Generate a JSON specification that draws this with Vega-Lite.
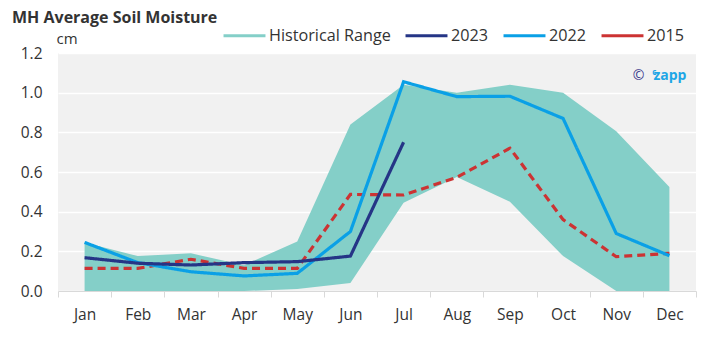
{
  "$schema": "https://vega.github.io/schema/vega-lite/v6.json",
  "autosize": "none",
  "width": 638,
  "height": 238,
  "padding": {"left": 58, "top": 53, "right": 24, "bottom": 50},
  "background": "white",
  "config": {
    "font": "Open Sans",
    "view": {"fill": "#f1f1f1", "stroke": null},
    "axisY": {
      "tickCount": 6,
      "labelOverlap": false,
      "format": ".1f",
      "labelFontSize": 15.5,
      "labelColor": "#333333",
      "labelPadding": 16,
      "ticks": false,
      "domain": false,
      "grid": true,
      "gridColor": "#ffffff",
      "gridWidth": 1.5,
      "titleAngle": 0,
      "titleX": -2,
      "titleY": -10,
      "titleAlign": "left",
      "titleBaseline": "alphabetic",
      "titleFontSize": 15,
      "titleFontWeight": "normal",
      "titleColor": "#333333"
    }
  },
  "title": {
    "text": "MH Average Soil Moisture",
    "anchor": "start",
    "frame": "group",
    "dx": -46,
    "dy": 28,
    "offset": 2,
    "baseline": "alphabetic",
    "fontSize": 16,
    "fontWeight": "bold",
    "color": "#333333",
    "font": "Open Sans"
  },
  "datasets": {
    "range": [
      {"month": "Jan", "low": 0.0, "high": 0.245},
      {"month": "Feb", "low": 0.0, "high": 0.176},
      {"month": "Mar", "low": 0.0, "high": 0.19},
      {"month": "Apr", "low": 0.0, "high": 0.13},
      {"month": "May", "low": 0.01, "high": 0.25},
      {"month": "Jun", "low": 0.04, "high": 0.84},
      {"month": "Jul", "low": 0.445, "high": 1.04},
      {"month": "Aug", "low": 0.575, "high": 1.0},
      {"month": "Sep", "low": 0.45, "high": 1.04},
      {"month": "Oct", "low": 0.176, "high": 1.0},
      {"month": "Nov", "low": 0.0, "high": 0.806},
      {"month": "Dec", "low": 0.0, "high": 0.525}
    ],
    "lines": [
      {"month": "Jan", "series": "2015", "value": 0.114},
      {"month": "Feb", "series": "2015", "value": 0.114},
      {"month": "Mar", "series": "2015", "value": 0.16},
      {"month": "Apr", "series": "2015", "value": 0.114},
      {"month": "May", "series": "2015", "value": 0.114},
      {"month": "Jun", "series": "2015", "value": 0.487},
      {"month": "Jul", "series": "2015", "value": 0.484},
      {"month": "Aug", "series": "2015", "value": 0.573},
      {"month": "Sep", "series": "2015", "value": 0.72},
      {"month": "Oct", "series": "2015", "value": 0.36},
      {"month": "Nov", "series": "2015", "value": 0.173},
      {"month": "Dec", "series": "2015", "value": 0.19},
      {"month": "Jan", "series": "2022", "value": 0.245},
      {"month": "Feb", "series": "2022", "value": 0.143},
      {"month": "Mar", "series": "2022", "value": 0.097},
      {"month": "Apr", "series": "2022", "value": 0.076},
      {"month": "May", "series": "2022", "value": 0.089},
      {"month": "Jun", "series": "2022", "value": 0.3},
      {"month": "Jul", "series": "2022", "value": 1.055},
      {"month": "Aug", "series": "2022", "value": 0.98},
      {"month": "Sep", "series": "2022", "value": 0.982},
      {"month": "Oct", "series": "2022", "value": 0.87},
      {"month": "Nov", "series": "2022", "value": 0.29},
      {"month": "Dec", "series": "2022", "value": 0.178},
      {"month": "Jan", "series": "2023", "value": 0.168},
      {"month": "Feb", "series": "2023", "value": 0.14},
      {"month": "Mar", "series": "2023", "value": 0.131},
      {"month": "Apr", "series": "2023", "value": 0.143},
      {"month": "May", "series": "2023", "value": 0.148},
      {"month": "Jun", "series": "2023", "value": 0.176},
      {"month": "Jul", "series": "2023", "value": 0.75}
    ]
  },
  "encoding": {
    "x": {
      "field": "month",
      "type": "ordinal",
      "sort": ["Jan","Feb","Mar","Apr","May","Jun","Jul","Aug","Sep","Oct","Nov","Dec"],
      "scale": {"type": "band", "paddingInner": 0, "paddingOuter": 0, "domain": ["Jan","Feb","Mar","Apr","May","Jun","Jul","Aug","Sep","Oct","Nov","Dec"]},
      "axis": {
        "title": null,
        "labelAngle": 0,
        "tickBand": "extent",
        "tickSize": 6,
        "tickColor": "#d9d9d9",
        "domainColor": "#d9d9d9",
        "labelFontSize": 15.5,
        "labelColor": "#333333",
        "labelPadding": 10,
        "grid": false
      }
    }
  },
  "layer": [
    {
      "data": {"name": "range"},
      "mark": {"type": "area", "opacity": 1},
      "encoding": {
        "y": {
          "field": "high",
          "type": "quantitative",
          "title": "cm",
          "scale": {"domain": [0, 1.2], "nice": false}
        },
        "y2": {"field": "low"},
        "color": {
          "datum": "Historical Range",
          "type": "nominal",
          "title": null,
          "scale": {
            "domain": ["Historical Range", "2023", "2022", "2015"],
            "range": ["#84cfc8", "#253586", "#0aa0e6", "#cc3333"]
          },
          "legend": {
            "title": null,
            "orient": "none",
            "direction": "horizontal",
            "legendX": 164,
            "legendY": -40,
            "symbolType": "stroke",
            "symbolSize": 1760,
            "symbolStrokeWidth": 3,
            "labelFontSize": 16.2,
            "labelColor": "#333333",
            "labelOffset": 2,
            "columnPadding": 8,
            "encode": {
              "symbols": {
                "update": {
                  "strokeWidth": {"signal": "datum.value === 'Historical Range' ? 9 : 3.5"},
                  "strokeDash": {"signal": "datum.value === '2015' ? [8, 5] : [1, 0]"},
                  "strokeCap": {"value": "butt"}
                }
              }
            }
          }
        }
      }
    },
    {
      "data": {"name": "lines"},
      "mark": {"type": "line", "strokeWidth": 3.2},
      "encoding": {
        "y": {"field": "value", "type": "quantitative", "title": "cm"},
        "color": {"field": "series", "type": "nominal", "title": null},
        "strokeDash": {
          "field": "series",
          "type": "nominal",
          "scale": {"domain": ["2015", "2022", "2023"], "range": [[8, 5], [1, 0], [1, 0]]},
          "legend": null
        }
      }
    },
    {
      "data": {"values": [{"month": "Dec", "v": 1.085, "t": "zapp"}]},
      "mark": {"type": "text", "align": "right", "baseline": "middle", "dx": 17, "fontSize": 14, "fontWeight": "bold", "color": "#1ea6e6"},
      "encoding": {
        "y": {"field": "v", "type": "quantitative", "title": "cm"},
        "text": {"field": "t"}
      }
    },
    {
      "data": {"values": [{"month": "Dec", "v": 1.1, "t": "c"}]},
      "mark": {"type": "text", "align": "right", "baseline": "middle", "dx": -13, "fontSize": 8, "fontWeight": "bold", "color": "#1ea6e6"},
      "encoding": {
        "y": {"field": "v", "type": "quantitative", "title": "cm"},
        "text": {"field": "t"}
      }
    },
    {
      "data": {"values": [{"month": "Dec", "v": 1.085, "t": "©"}]},
      "mark": {"type": "text", "align": "right", "baseline": "middle", "dx": -25, "fontSize": 14, "color": "#3a3a8c"},
      "encoding": {
        "y": {"field": "v", "type": "quantitative", "title": "cm"},
        "text": {"field": "t"}
      }
    }
  ]
}
